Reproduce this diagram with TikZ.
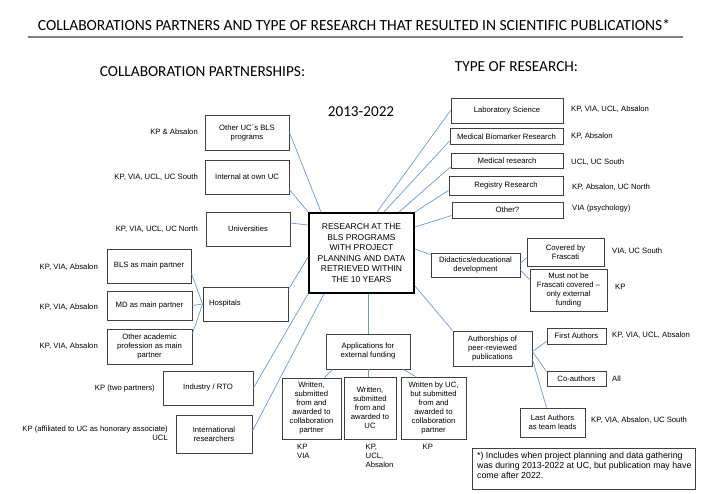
\documentclass[tikz,border=0pt]{standalone}
\usepackage{fontspec}
\setmainfont{Liberation Sans}
\newfontfamily\calibf{Carlito}
\usetikzlibrary{calc}
\definecolor{boxgray}{RGB}{64,64,64}
\definecolor{linkblue}{RGB}{104,154,214}
\definecolor{rulegray}{RGB}{128,128,128}
\newcommand\smallf{\fontsize{7.7}{9}\selectfont}
\newcommand\centf{\fontsize{8.5}{10.5}\selectfont}
\newcommand\notef{\fontsize{8.8}{10}\selectfont}
\newcommand\titlef{\calibf\fontsize{15.5}{17}\selectfont}
\newcommand\subtf{\calibf\fontsize{15.3}{17}\selectfont}
\newcommand\yearf{\calibf\fontsize{15.2}{17}\selectfont}
\tikzset{
  box/.style={draw=boxgray, line width=0.9pt, inner sep=1pt, align=center, font=\smallf, text=black},
  mainbox/.style={draw=black, line width=2pt, inner sep=1pt, align=center, font=\centf},
  lbl/.style={inner sep=0pt, font=\smallf, text=black},
  conn/.style={draw=linkblue, line width=0.7pt},
}
\begin{document}
\begin{tikzpicture}[x=1pt,y=-1pt]
\fill[white] (0,0) rectangle (701,493);
\useasboundingbox (0,0) rectangle (701,493);

% titles
\node[inner sep=0pt, font=\titlef] (title) at (354,25) {COLLABORATIONS PARTNERS AND TYPE OF RESEARCH THAT RESULTED IN SCIENTIFIC PUBLICATIONS*};
\coordinate (rl) at (28,37);
\coordinate (rr) at (683,37);
\draw[rulegray, line width=1.3pt] (rl) -- (rr);
\node[inner sep=0pt, font=\subtf] (st1) at (202.5,72) {COLLABORATION PARTNERSHIPS:};
\node[inner sep=0pt, font=\subtf] (st2) at (516.5,67) {TYPE OF RESEARCH:};
\node[inner sep=0pt, font=\yearf] (yr) at (361,112) {2013-2022};

% center
\node[mainbox, minimum width=105, minimum height=80] (c) at (361.5,253) {RESEARCH AT THE\\BLS PROGRAMS\\WITH PROJECT\\PLANNING AND DATA\\RETRIEVED WITHIN\\THE 10 YEARS};

% left boxes
\node[box, minimum width=84, minimum height=35] (ouc) at (247,132.5) {Other UC\textasciiacute s BLS\\programs};
\node[box, minimum width=84, minimum height=34] (iown) at (247,177) {Internal at own UC};
\node[box, minimum width=84, minimum height=34] (univ) at (248,229) {Universities};
\node[box, inner xsep=6pt, text width=73, align=left, minimum height=34] (hosp) at (245.5,304) {Hospitals};
\node[box, minimum width=84, minimum height=34] (bls) at (149,266) {BLS as main partner};
\node[box, minimum width=85, minimum height=29] (md) at (149.5,305.5) {MD as main partner};
\node[box, minimum width=85, minimum height=35] (oth) at (149.5,346.5) {Other academic\\profession as main\\partner};
\node[box, minimum width=90, minimum height=34] (ind) at (208,388) {Industry / RTO};
\node[box, minimum width=76, minimum height=38] (intl) at (214,434) {International\\researchers};

% left labels
\node[lbl, anchor=east] (l1) at (198,132) {KP \& Absalon};
\node[lbl, anchor=east] (l2) at (198,177) {KP, VIA, UCL, UC South};
\node[lbl, anchor=east] (l3) at (198,229) {KP, VIA, UCL, UC North};
\node[lbl, anchor=east] (l4) at (98,267) {KP, VIA, Absalon};
\node[lbl, anchor=east] (l5) at (98,307) {KP, VIA, Absalon};
\node[lbl, anchor=east] (l6) at (98,346) {KP, VIA, Absalon};
\node[lbl, anchor=east] (l7) at (155,389) {KP (two partners)};
\node[lbl, anchor=east, align=right] (l8) at (168,433.5) {KP (affiliated to UC as honorary associate)\\UCL};

% right boxes
\node[box, minimum width=112, minimum height=25] (lab) at (507,110.5) {Laboratory Science};
\node[box, minimum width=113, minimum height=16] (mbr) at (506.5,136.5) {Medical Biomarker Research};
\node[box, minimum width=112, minimum height=15] (medr) at (507,161) {Medical research};
\node[box, minimum width=114, minimum height=19] (reg) at (506,185.5) {Registry Research};
\node[box, minimum width=111, minimum height=16] (othq) at (507.5,210) {Other?};
\node[box, minimum width=89, minimum height=24] (did) at (475.5,265) {Didactics/educational\\development};
\node[box, minimum width=77, minimum height=28] (cov) at (565.5,252) {Covered by\\Frascati};
\node[box, minimum width=77, minimum height=42] (must) at (568.5,290) {Must not be\\Frascati covered --\\only external\\funding};
\node[box, minimum width=79, minimum height=35] (auth) at (492.5,348.5) {Authorships of\\peer-reviewed\\publications};
\node[box, minimum width=59, minimum height=16] (first) at (576.5,336) {First Authors};
\node[box, minimum width=59, minimum height=15] (coa) at (576.5,378.5) {Co-authors};
\node[box, minimum width=65, minimum height=29] (last) at (552.5,422.5) {Last Authors\\as team leads};

% right labels
\node[lbl, anchor=west] (r1) at (571,109) {KP, VIA, UCL, Absalon};
\node[lbl, anchor=west] (r2) at (571,136) {KP, Absalon};
\node[lbl, anchor=west] (r3) at (571,162) {UCL, UC South};
\node[lbl, anchor=west] (r4) at (572,187) {KP, Absalon, UC North};
\node[lbl, anchor=west] (r5) at (572,209) {VIA (psychology)};
\node[lbl, anchor=west] (r6) at (612,251) {VIA, UC South};
\node[lbl, anchor=west] (r7) at (615,287) {KP};
\node[lbl, anchor=west] (r8) at (612,335) {KP, VIA, UCL, Absalon};
\node[lbl, anchor=west] (r9) at (612,379) {All};
\node[lbl, anchor=west] (r10) at (591,420) {KP, VIA, Absalon, UC South};

% applications
\node[box, minimum width=84, minimum height=35] (app) at (368,351.5) {Applications for\\external funding};
\node[box, minimum width=59, minimum height=61] (w1) at (311.5,408.5) {Written,\\submitted\\from and\\awarded to\\collaboration\\partner};
\node[box, minimum width=52, minimum height=62] (w2) at (370,408) {Written,\\submitted\\from and\\awarded to\\UC};
\node[box, minimum width=65, minimum height=62] (w3) at (433.5,408) {Written by UC,\\but submitted\\from and\\awarded to\\collaboration\\partner};
\node[lbl, anchor=north west, align=left] (b1) at (297,443.5) {KP\\VIA};
\node[lbl, anchor=north west, align=left] (b2) at (365.5,443.5) {KP,\\UCL,\\Absalon};
\node[lbl, anchor=north west, align=left] (b3) at (422.5,443.5) {KP};

% footnote
\node[draw=boxgray, line width=0.9pt, minimum width=223, minimum height=41, inner sep=0pt] (foot) at (583.5,468.5) {};
\node[inner sep=0pt, anchor=north west, align=left, font=\notef] (foottxt) at (477,452) {*) Includes when project planning and data gathering\\was during 2013-2022 at UC, but publication may have\\come after 2022.};

% connectors left
\draw[conn] (ouc.east) -- ($(c.north west)+(13,0)$);
\draw[conn] ($(iown.south east)+(0,-5)$) -- (c.north west);
\draw[conn] ($(univ.east)+(0,-6)$) -- ($(c.north west)+(0,13)$);
\draw[conn] ($(hosp.north east)+(0,3)$) -- ($(c.north west)+(0,45)$);
\draw[conn] (ind.east) -- (c.south west);
\draw[conn] ($(intl.east)+(0,-3)$) -- ($(c.south west)+(16,0)$);
\draw[conn] ($(bls.south east)+(0,-10)$) -- (hosp.west);
\draw[conn] (md.east) -- (hosp.west);
\draw[conn] ($(oth.north east)+(0,5)$) -- (hosp.west);

% connectors right
\draw[conn] ($(c.north west)+(69,0)$) -- (lab.west);
\draw[conn] ($(c.north west)+(76,0)$) -- ($(mbr.south west)+(0,-4)$);
\draw[conn] ($(c.north west)+(91,0)$) -- ($(medr.south west)+(0,-2)$);
\draw[conn] (c.north east) -- ($(reg.south west)+(0,-5)$);
\draw[conn] ($(c.north east)+(0,15)$) -- ($(othq.south west)+(0,-3)$);
\draw[conn] ($(c.north east)+(0,37)$) -- ($(did.north west)+(0,2)$);
\draw[conn] ($(c.south east)+(0,-8)$) -- (auth.north west);
\draw[conn] (app.north) -- (app.north |- c.south);
\draw[conn] ($(did.east)+(0,-2)$) -- ($(cov.west)+(0,6)$);
\draw[conn] ($(did.east)+(0,5)$) -- ($(must.north west)+(0,11)$);
\draw[conn] ($(auth.east)+(0,3)$) -- ($(first.south west)+(0,-3)$);
\draw[conn] ($(auth.east)+(0,3)$) -- ($(coa.north west)+(0,1)$);
\draw[conn] ($(auth.south east)+(0,-7)$) -- ($(last.north west)+(27,0)$);
\draw[conn] ($(app.south west)+(7,0)$) -- ($(w1.north west)+(43,0)$);
\draw[conn] ($(w2.north)+(-2,0)$) -- ($(w2.north)+(-2,-8)$);
\draw[conn] ($(app.south west)+(78,0)$) -- ($(w3.north west)+(15,0)$);
\end{tikzpicture}
\end{document}
